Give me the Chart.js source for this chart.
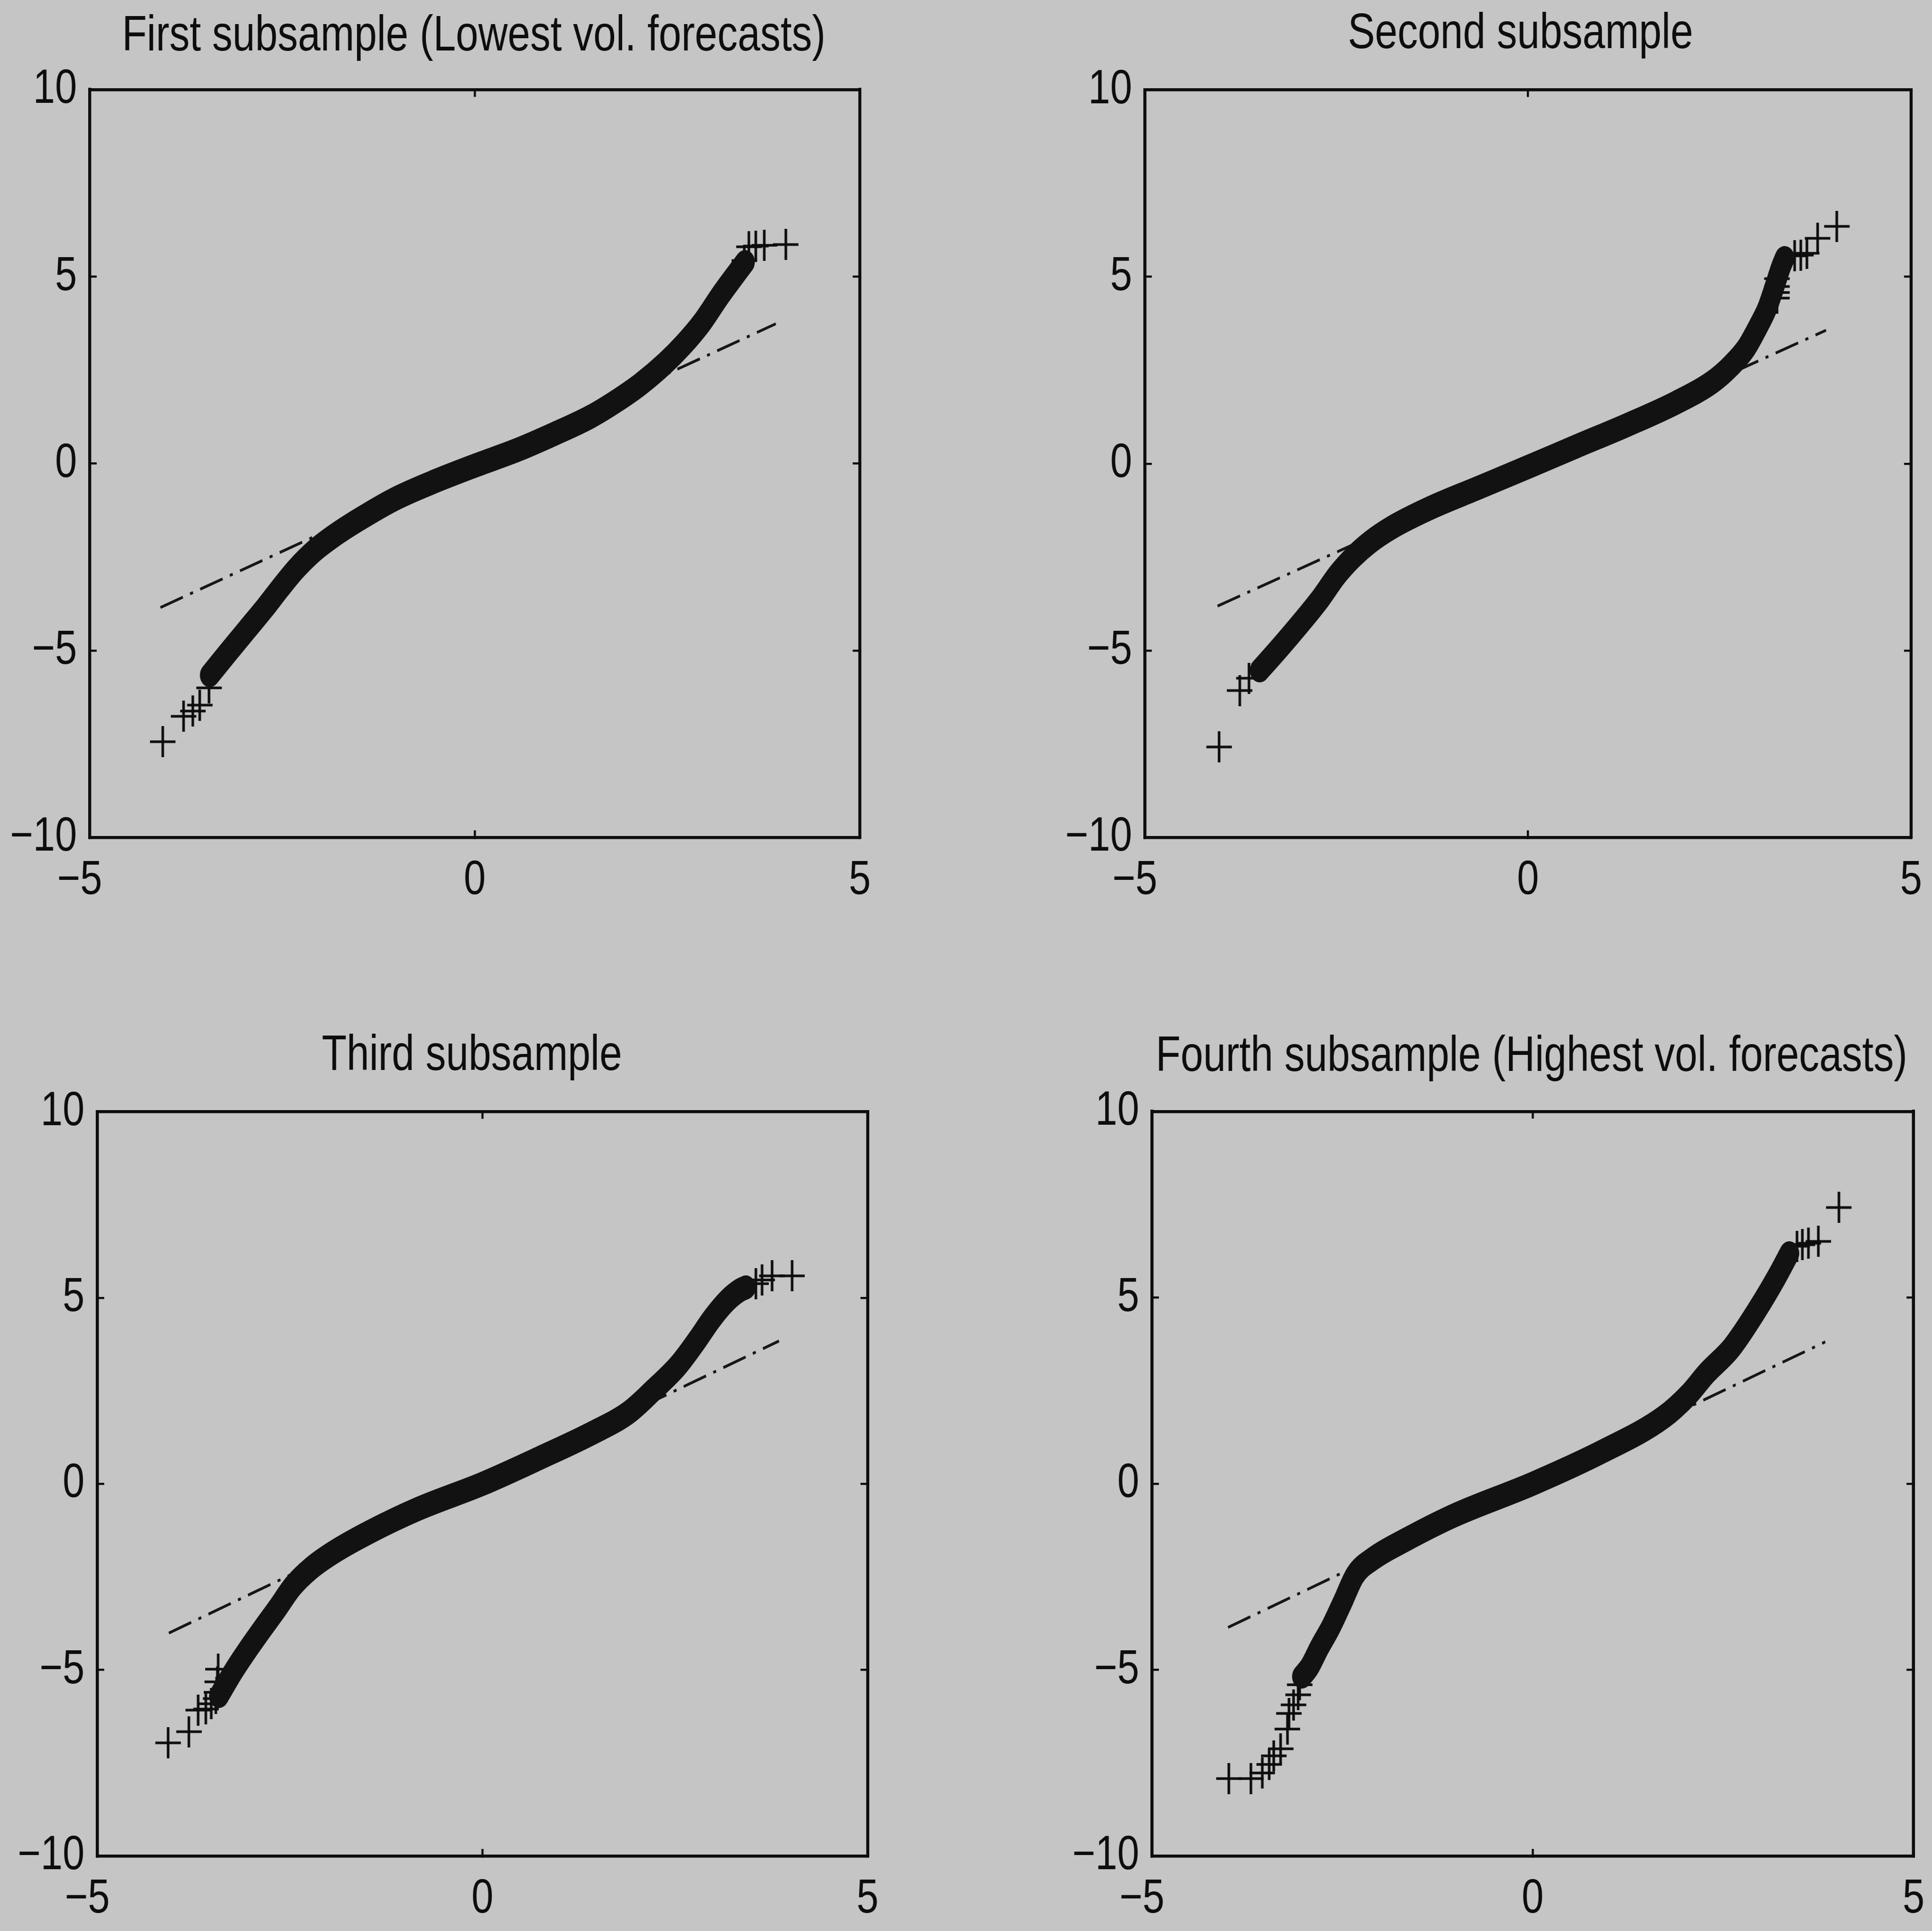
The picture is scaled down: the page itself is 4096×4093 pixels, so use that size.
<!DOCTYPE html>
<html>
<head>
<meta charset="utf-8">
<script src="https://cdn.jsdelivr.net/npm/chart.js@4.4.1/dist/chart.umd.min.js"></script>
<style>
  html, body { margin: 0; padding: 0; background: #c5c5c5; width: 4096px; height: 4093px; overflow: hidden; }
  canvas { position: absolute; }
</style>
</head>
<body>
<script>
// Normal QQ plots of standardized returns, one per volatility-forecast subsample.
const titles = [
  'First subsample (Lowest vol. forecasts)',
  'Second subsample',
  'Third subsample',
  'Fourth subsample (Highest vol. forecasts)'
];
const xTicks = [-5, 0, 5];
const yTicks = [-10, -5, 0, 5, 10];

// Dense part of each sample (quantile pairs along the solid band)
const bandFirst = [[-3.44,-5.66],[-3.20,-5.05],[-2.96,-4.45],[-2.72,-3.85],[-2.52,-3.32],[-2.32,-2.82],[-2.08,-2.33],[-1.84,-1.95],[-1.52,-1.52],[-1.04,-0.95],[-0.56,-0.51],[0.01,-0.05],[0.56,0.37],[1.04,0.80],[1.51,1.26],[1.83,1.66],[2.15,2.12],[2.47,2.68],[2.71,3.18],[2.95,3.77],[3.19,4.50],[3.40,5.09],[3.51,5.39]];
const bandSecond = [[-3.50,-5.53],[-3.30,-5.07],[-3.09,-4.57],[-2.89,-4.08],[-2.70,-3.59],[-2.49,-2.98],[-2.28,-2.50],[-2.06,-2.10],[-1.77,-1.70],[-1.29,-1.20],[-0.64,-0.64],[0.00,-0.09],[0.64,0.47],[1.29,1.03],[1.93,1.63],[2.41,2.19],[2.65,2.62],[2.85,3.10],[3.00,3.65],[3.12,4.15],[3.22,4.75],[3.30,5.25],[3.35,5.50]];
const bandThird = [[-3.42,-5.70],[-3.22,-5.00],[-3.06,-4.50],[-2.87,-3.94],[-2.66,-3.34],[-2.46,-2.75],[-2.23,-2.28],[-1.94,-1.85],[-1.46,-1.29],[-0.82,-0.66],[0.00,0.00],[0.78,0.73],[1.42,1.36],[1.90,1.92],[2.22,2.52],[2.54,3.18],[2.78,3.84],[2.98,4.44],[3.18,4.93],[3.34,5.20],[3.42,5.28]];
const bandFourth = [[-3.03,-5.18],[-2.93,-4.92],[-2.80,-4.40],[-2.65,-3.85],[-2.50,-3.20],[-2.33,-2.45],[-2.10,-2.02],[-1.68,-1.52],[-1.04,-0.86],[0.00,0.00],[0.91,0.86],[1.72,1.79],[2.05,2.40],[2.28,2.96],[2.61,3.65],[2.95,4.68],[3.20,5.54],[3.37,6.19]];

// Sparse tail observations, drawn as separate '+' markers
const tailFirst = [[-4.05,-7.44],[-3.78,-6.76],[-3.66,-6.62],[-3.57,-6.46],[-3.45,-6.00],[3.50,5.43],[3.56,5.80],[3.65,5.82],[3.76,5.84],[4.04,5.86]];
const tailSecond = [[-4.03,-7.58],[-3.76,-6.07],[-3.64,-5.74],[3.25,4.43],[3.25,4.58],[3.25,4.74],[3.25,4.95],[3.48,5.56],[3.56,5.58],[3.64,5.63],[3.78,6.03],[4.03,6.35]];
const tailThird = [[-4.08,-6.96],[-3.81,-6.66],[-3.69,-6.08],[-3.59,-6.05],[-3.52,-5.91],[-3.46,-5.77],[-3.45,-5.60],[-3.44,-5.32],[-3.43,-4.98],[3.55,5.38],[3.63,5.48],[3.76,5.59],[4.02,5.59]];
const tailFourth = [[-3.99,-7.92],[-3.70,-7.92],[-3.55,-7.77],[-3.46,-7.54],[-3.40,-7.31],[-3.31,-7.12],[-3.22,-6.59],[-3.20,-6.17],[-3.14,-5.94],[-3.08,-5.67],[-3.06,-5.40],[3.47,6.38],[3.54,6.42],[3.62,6.46],[3.75,6.51],[4.02,7.42]];

// Fitted normal reference lines (end points)
const refFirst = [[-4.08,-3.85],[3.91,3.74]];
const refSecond = [[-4.05,-3.81],[3.89,3.57]];
const refThird = [[-4.07,-4.01],[3.85,3.84]];
const refFourth = [[-4.00,-3.86],[3.84,3.81]];

// Plot box of each panel on the page (px): left, top, right, bottom, title centre
const panelBoxes = [
  { L: 189.6,  T: 190.7,  R: 1823.3, B: 1775.5, tx: 1004.4, ty: 78.4 },
  { L: 2426.8, T: 190.7,  R: 4051.6, B: 1775.5, tx: 3223.5, ty: 73.1 },
  { L: 206.4,  T: 2356.2, R: 1839.0, B: 3934.0, tx: 1000.5, ty: 2238.7 },
  { L: 2442.4, T: 2356.2, R: 4056.8, B: 3934.0, tx: 3247.0, ty: 2241.3 }
];

// The figure is drawn with narrow proportions: each canvas holds K times more
// pixels across than it shows, so glyphs and markers come out condensed.
const K = 1.22;
const FONT = '"Liberation Sans", Arial, Helvetica, sans-serif';
const TICK_SIZE = 102;
const TITLE_SIZE = 105;
const INK = '#0d0d0d';

// '+' marker, slightly taller than wide once condensed
function makeCross(w, h, lw) {
  const c = document.createElement('canvas');
  const wi = Math.round(w * K);
  c.width = wi; c.height = h;
  const g = c.getContext('2d');
  g.fillStyle = INK;
  g.fillRect(0, h / 2 - lw / 2, wi, lw);
  g.fillRect(wi / 2 - lw * K / 2, 0, lw * K, h);
  return c;
}
const crossMark = makeCross(54, 66, 5.5);

function tickText(v) {
  if (v < 0) return '\u2212' + Math.abs(v);
  return String(v);
}

function axisBase(min, max, tickVals, vertical) {
  return {
    type: 'linear',
    min: min, max: max,
    afterBuildTicks: s => { s.ticks = tickVals.map(v => ({ value: v })); },
    grid: { display: true, drawOnChartArea: false, drawTicks: true,
            tickLength: vertical ? -15 * K : -15, color: INK, lineWidth: vertical ? 4.5 : 4.5 * K },
    border: { display: true, color: INK, width: vertical ? 6.5 * K : 6.5 }
  };
}

function makePanel(box, title, band, tail, ref) {
  const mL = 185, mB = 170;
  const left = box.L - mL;
  const W = 2 * (box.tx - left);
  const top = box.ty - 80;
  const padTop = 80 - 0.6 * TITLE_SIZE;
  const padBottom = box.T - top - padTop - 1.2 * TITLE_SIZE;
  const H = Math.round(box.B - top + mB);

  const cv = document.createElement('canvas');
  cv.width = Math.round(W * K);
  cv.height = H;
  cv.style.left = left + 'px';
  cv.style.top = top + 'px';
  cv.style.width = W + 'px';
  cv.style.height = H + 'px';
  document.body.appendChild(cv);

  const x = axisBase(-5, 5, xTicks, false);
  x.position = 'bottom';
  x.ticks = { font: { family: FONT, size: TICK_SIZE }, color: INK, padding: 46, maxRotation: 0, autoSkip: false,
              callback: v => (v < 0 ? tickText(v) + '\u2002' : tickText(v)) };
  x.afterFit = s => { s.height = mB; };

  const x2 = axisBase(-5, 5, xTicks, false);
  x2.position = 'top';
  x2.ticks = { display: false };
  x2.afterFit = s => { s.height = 0; };

  const y = axisBase(-10, 10, yTicks, true);
  y.position = 'left';
  y.ticks = { font: { family: FONT, size: TICK_SIZE }, color: INK, padding: 51, autoSkip: false, callback: v => tickText(v) };
  y.afterFit = s => { s.width = mL * K; };

  const y2 = axisBase(-10, 10, yTicks, true);
  y2.position = 'right';
  y2.ticks = { display: false };
  y2.afterFit = s => { s.width = cv.width - mL * K - (box.R - box.L) * K; };

  new Chart(cv, {
    type: 'scatter',
    data: {
      datasets: [
        { type: 'line', data: band, xAxisID: 'x', yAxisID: 'y', borderColor: '#121212', borderWidth: 51,
          pointRadius: 0, cubicInterpolationMode: 'monotone', borderCapStyle: 'round', borderJoinStyle: 'round', fill: false },
        { type: 'scatter', data: tail, xAxisID: 'x', yAxisID: 'y', pointStyle: crossMark, pointRadius: 30,
          borderColor: INK, backgroundColor: INK },
        { type: 'line', data: ref, xAxisID: 'x', yAxisID: 'y', borderColor: '#161616', borderWidth: 6,
          borderDash: [62, 20, 8, 20], pointRadius: 0, fill: false }
      ]
    },
    options: {
      responsive: false,
      devicePixelRatio: 1,
      animation: false,
      events: [],
      layout: { padding: 0 },
      plugins: {
        legend: { display: false },
        tooltip: { enabled: false },
        title: { display: true, text: title, color: INK,
                 font: { family: FONT, size: TITLE_SIZE, weight: 'normal', lineHeight: 1.2 },
                 padding: { top: padTop, bottom: padBottom } }
      },
      scales: { x: x, x2: x2, y: y, y2: y2 }
    }
  });
}

makePanel(panelBoxes[0], titles[0], bandFirst, tailFirst, refFirst);
makePanel(panelBoxes[1], titles[1], bandSecond, tailSecond, refSecond);
makePanel(panelBoxes[2], titles[2], bandThird, tailThird, refThird);
makePanel(panelBoxes[3], titles[3], bandFourth, tailFourth, refFourth);
</script>
</body>
</html>
